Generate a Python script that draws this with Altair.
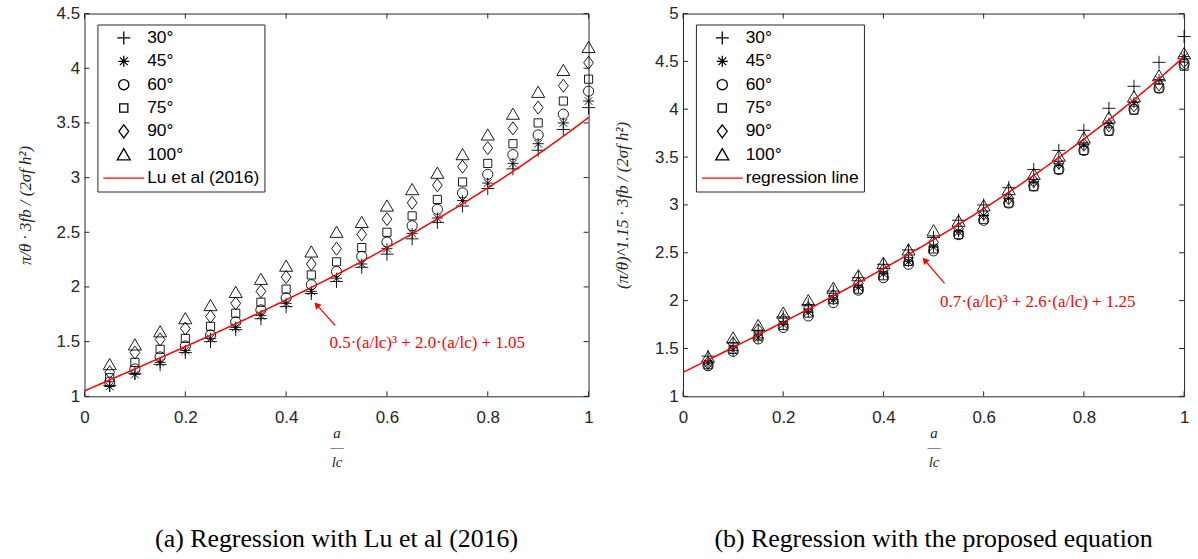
import altair as alt
import pandas as pd

# ---------------- data ----------------
x_vals = [0.05, 0.10, 0.15, 0.20, 0.25, 0.30, 0.35, 0.40, 0.45, 0.50,
          0.55, 0.60, 0.65, 0.70, 0.75, 0.80, 0.85, 0.90, 0.95, 1.00]
angles = ["30°", "45°", "60°", "75°", "90°", "100°"]

# (a) pi/theta * 3fb/(2 sigma_f h^2)
left_30 = [1.10, 1.21, 1.29, 1.40, 1.50, 1.61, 1.71, 1.82, 1.94, 2.05, 2.18, 2.30, 2.44, 2.59, 2.74, 2.90, 3.08, 3.25, 3.44, 3.64]
left_45 = [1.09, 1.20, 1.31, 1.42, 1.53, 1.63, 1.74, 1.85, 1.96, 2.08, 2.21, 2.35, 2.49, 2.63, 2.79, 2.95, 3.13, 3.31, 3.50, 3.70]
left_60 = [1.13, 1.25, 1.36, 1.46, 1.56, 1.68, 1.79, 1.90, 2.02, 2.14, 2.28, 2.41, 2.56, 2.71, 2.86, 3.03, 3.21, 3.39, 3.58, 3.79]
left_75 = [1.17, 1.31, 1.43, 1.53, 1.64, 1.76, 1.86, 1.98, 2.11, 2.23, 2.36, 2.50, 2.65, 2.80, 2.96, 3.13, 3.31, 3.50, 3.70, 3.90]
left_90 = [1.22, 1.40, 1.52, 1.62, 1.73, 1.85, 1.96, 2.09, 2.21, 2.35, 2.48, 2.62, 2.77, 2.93, 3.10, 3.27, 3.45, 3.64, 3.84, 4.05]
left_100 = [1.29, 1.47, 1.59, 1.71, 1.83, 1.95, 2.07, 2.19, 2.32, 2.50, 2.59, 2.74, 2.89, 3.04, 3.21, 3.39, 3.58, 3.78, 3.98, 4.19]

# (b) (pi/theta)^1.15 * 3fb/(2 sigma_f h^2)
right_30 = [1.42, 1.56, 1.69, 1.83, 1.96, 2.10, 2.24, 2.38, 2.53, 2.66, 2.84, 3.00, 3.18, 3.37, 3.57, 3.78, 4.01, 4.24, 4.49, 4.76]
right_45 = [1.34, 1.48, 1.61, 1.75, 1.88, 2.01, 2.14, 2.28, 2.41, 2.56, 2.72, 2.89, 3.07, 3.24, 3.43, 3.63, 3.85, 4.07, 4.31, 4.55]
right_60 = [1.32, 1.47, 1.60, 1.72, 1.84, 1.98, 2.11, 2.24, 2.38, 2.52, 2.69, 2.84, 3.02, 3.20, 3.37, 3.57, 3.78, 4.00, 4.22, 4.47]
right_75 = [1.33, 1.49, 1.63, 1.74, 1.87, 2.01, 2.12, 2.26, 2.41, 2.54, 2.69, 2.85, 3.02, 3.19, 3.37, 3.57, 3.77, 3.99, 4.22, 4.45]
right_90 = [1.35, 1.55, 1.69, 1.80, 1.92, 2.05, 2.18, 2.32, 2.45, 2.61, 2.75, 2.91, 3.07, 3.25, 3.44, 3.63, 3.83, 4.04, 4.26, 4.50]
right_100 = [1.41, 1.61, 1.74, 1.87, 2.00, 2.13, 2.26, 2.39, 2.53, 2.73, 2.83, 2.99, 3.16, 3.32, 3.51, 3.70, 3.91, 4.13, 4.35, 4.58]

# regression coefficients shown on the chart: c3*x^3 + c1*x + c0
left_coef = [0.5, 2.0, 1.05]
right_coef = [0.7, 2.6, 1.25]

x_ticks = [0, 0.2, 0.4, 0.6, 0.8, 1.0]
left_y_ticks = [1, 1.5, 2, 2.5, 3, 3.5, 4, 4.5]
right_y_ticks = [1, 1.5, 2, 2.5, 3, 3.5, 4, 4.5, 5]

left_line_label = "Lu et al (2016)"
right_line_label = "regression line"
left_formula = "0.5·(a/lc)³ + 2.0·(a/lc) + 1.05"
right_formula = "0.7·(a/lc)³ + 2.6·(a/lc) + 1.25"
left_caption = "(a) Regression with Lu et al (2016)"
right_caption = "(b) Regression with the proposed equation"

# annotation anchor points (data coordinates): text, arrow tail, arrow head
left_ann = {"tx": 0.68, "ty": 1.49, "x0": 0.497, "y0": 1.65, "x1": 0.4606, "y1": 1.836, "ang": 318}
right_ann = {"tx": 0.708, "ty": 1.99, "x0": 0.522, "y0": 2.18, "x1": 0.4825, "y1": 2.422, "ang": 320}

# ---------------- styling ----------------
RED = "#ff0000"
INK = "#262626"
SYM = 1681  # symbol area; custom paths are drawn in units of half its side
marker_paths = [
    "M-0.32,0L0.32,0M0,-0.32L0,0.32",                                       # +
    "M-0.27,0L0.27,0M0,-0.27L0,0.27M-0.19,-0.19L0.19,0.19M-0.19,0.19L0.19,-0.19",  # *
    "M0.25,0A0.25,0.25 0 1,1 -0.25,0A0.25,0.25 0 1,1 0.25,0Z",              # o
    "M-0.2,-0.2L0.2,-0.2L0.2,0.2L-0.2,0.2Z",                                # square
    "M0,-0.32L0.24,0L0,0.32L-0.24,0Z",                                      # diamond
    "M0,-0.3L0.32,0.25L-0.32,0.25Z",                                        # triangle
]
line_path = "M-1,0L1,0"


def long_frame(series_lists):
    rows = []
    for ang, vals in zip(angles, series_lists):
        for xv, yv in zip(x_vals, vals):
            rows.append({"x": xv, "y": yv, "series": ang})
    return pd.DataFrame(rows)


def panel(df, coef, line_label, formula, y_ticks, y_title, caption, ann, W, H, title_pad):
    xs = alt.Scale(domain=[0, 1], nice=False, zero=False)
    ys = alt.Scale(domain=[y_ticks[0], y_ticks[-1]], nice=False, zero=False)
    domain = angles + [line_label]
    cs = alt.Scale(domain=domain, range=["#000000"] * 6 + [RED])
    ss = alt.Scale(domain=domain, range=marker_paths + [line_path])
    legend = alt.Legend(
        title=None, orient="none", legendX=13, legendY=11,
        symbolSize=SYM, clipHeight=17, rowPadding=5.5, padding=5,
        labelOffset=2, labelFont="Liberation Sans", labelFontSize=17.5,
        labelColor="#000000", labelLimit=400, strokeColor=INK,
        fillColor="white", symbolStrokeWidth=1.3, symbolOpacity=1,
    )
    x_axis = alt.Axis(
        values=x_ticks, format="~g", title=["a", "—", "lc"],
        titleFont="Liberation Serif", titleFontStyle="italic",
        titleFontWeight="normal", titleFontSize=15, titleLineHeight=15,
        titlePadding=0, titleColor=INK, labelPadding=13, labelFlush=False,
    )
    y_axis = alt.Axis(
        values=y_ticks, format="~g", title=y_title,
        titleFont="Liberation Serif", titleFontStyle="italic",
        titleFontWeight="normal", titleFontSize=17, titleColor=INK,
        titlePadding=title_pad, minExtent=30, maxExtent=30, labelPadding=5,
    )

    def X(field):
        return alt.X(field, scale=xs, axis=x_axis)

    def Y(field):
        return alt.Y(field, scale=ys, axis=y_axis)

    points = alt.Chart(df).mark_point(
        filled=False, size=SYM, strokeWidth=0.9, opacity=1
    ).encode(
        x=X("x:Q"),
        y=Y("y:Q"),
        color=alt.Color("series:N", scale=cs, legend=legend),
        shape=alt.Shape("series:N", scale=ss, legend=legend),
    )

    curve = alt.Chart(alt.sequence(0, 1.0001, 0.005, as_="x")).transform_calculate(
        y=f"{coef[0]}*pow(datum.x,3)+{coef[1]}*datum.x+{coef[2]}",
        series=f"'{line_label}'",
    ).mark_line(strokeWidth=1.5, opacity=1).encode(
        x=X("x:Q"),
        y=Y("y:Q"),
        color=alt.Color("series:N", scale=cs, legend=legend),
    )

    xt = pd.DataFrame({"v": x_ticks})
    yt = pd.DataFrame({"v": y_ticks})
    tick_style = dict(color=INK, strokeWidth=1)
    xb = alt.Chart(xt).mark_rule(**tick_style).encode(
        x=X("v:Q"), y=alt.value(H), y2=alt.value(H - 5))
    xtp = alt.Chart(xt).mark_rule(**tick_style).encode(
        x=X("v:Q"), y=alt.value(0), y2=alt.value(5))
    yl = alt.Chart(yt).mark_rule(**tick_style).encode(
        y=Y("v:Q"), x=alt.value(0), x2=alt.value(5))
    yr = alt.Chart(yt).mark_rule(**tick_style).encode(
        y=Y("v:Q"), x=alt.value(W), x2=alt.value(W - 5))

    ann_df = pd.DataFrame([dict(ann, t=formula)])
    text = alt.Chart(ann_df).mark_text(
        color=RED, font="Liberation Serif", fontSize=17, align="center", baseline="middle"
    ).encode(x=X("tx:Q"), y=Y("ty:Q"), text="t:N")
    shaft = alt.Chart(ann_df).mark_rule(color=RED, strokeWidth=1.2).encode(
        x=X("x0:Q"), y=Y("y0:Q"), x2="x1:Q", y2="y1:Q",
    )
    head = alt.Chart(ann_df).mark_point(
        shape="triangle-up", filled=True, size=55, color=RED, opacity=1,
        angle=ann["ang"],
    ).encode(x=X("x1:Q"), y=Y("y1:Q"))

    return alt.layer(points, curve, xb, xtp, yl, yr, shaft, head, text).properties(
        width=W, height=H,
        title=alt.TitleParams(
            text=caption, orient="bottom", anchor="middle",
            font="Liberation Serif", fontSize=26, fontWeight="normal",
            color="#000000", offset=57,
        ),
    )


left = panel(long_frame([left_30, left_45, left_60, left_75, left_90, left_100]),
             left_coef, left_line_label, left_formula, left_y_ticks,
             "π/θ · 3fb / (2σf h²)", left_caption, left_ann, 507, 385, 20)
right = panel(long_frame([right_30, right_45, right_60, right_75, right_90, right_100]),
              right_coef, right_line_label, right_formula, right_y_ticks,
              "(π/θ)^1.15 · 3fb / (2σf h²)", right_caption, right_ann, 504, 385, 22)

chart = alt.hconcat(left, right, spacing=95, bounds="flush").resolve_scale(
    color="independent", shape="independent"
).properties(
    padding={"left": 16, "top": 2, "right": 5, "bottom": 5},
    background="white",
).configure_view(
    stroke=INK, strokeWidth=1
).configure_axis(
    labelFont="Liberation Sans", labelFontSize=17, labelColor=INK,
    domain=False, ticks=False, tickSize=0, grid=False,
    labelOverlap=False, labelBound=False,
)

chart.save("out.html", embed_options={"renderer": "svg", "actions": False})
